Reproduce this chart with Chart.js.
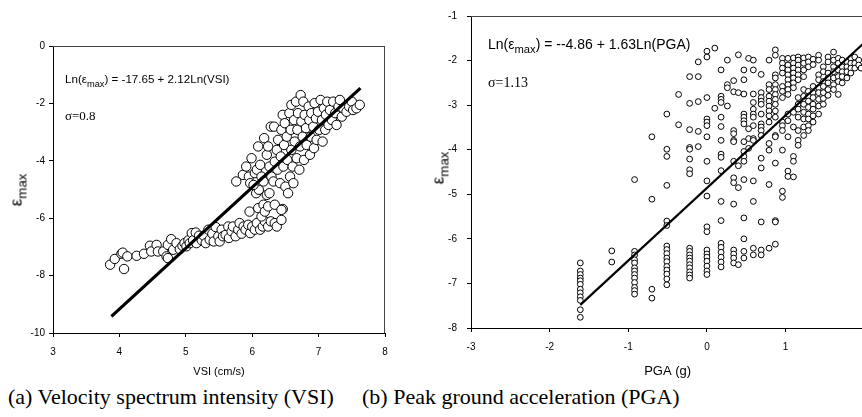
<!DOCTYPE html>
<html><head><meta charset="utf-8">
<script src="https://cdn.jsdelivr.net/npm/chart.js@4.4.1/dist/chart.umd.min.js"></script>
<style>
html,body{margin:0;padding:0;background:#fff;}
body{width:862px;height:417px;overflow:hidden;position:relative;font-family:"Liberation Sans",Arial,sans-serif;}
canvas{position:absolute;top:0;}
.t{position:absolute;white-space:nowrap;color:#000;line-height:1;}
.eq{font-family:"Liberation Sans",Arial,sans-serif;}
.eq sub{font-size:0.8em;vertical-align:-0.4em;line-height:0;}
.sig{font-family:"Liberation Serif","Times New Roman",serif;}
.cap{font-family:"Liberation Serif","Times New Roman",serif;font-size:22px;}
.yt{transform:translate(-50%,-50%) rotate(-90deg);font-size:17px;}
.yt sub{font-size:0.78em;vertical-align:-0.4em;line-height:0;}
</style></head>
<body>
<canvas id="c1" width="400" height="380" style="left:0"></canvas>
<canvas id="c2" width="446" height="380" style="left:430px"></canvas>

<div class="t yt" style="left:16px;top:190px">ε<sub>max</sub></div>
<div class="t yt" style="left:438px;top:168px">ε<sub>max</sub></div>

<div class="t eq" style="left:65px;top:73px;font-size:11.6px">Ln(ε<sub>max</sub>) = -17.65 + 2.12Ln(VSI)</div>
<div class="t sig" style="left:65px;top:109px;font-size:13px">σ=0.8</div>
<div class="t eq" style="left:488px;top:37px;font-size:14px">Ln(ε<sub>max</sub>) = --4.86 + 1.63Ln(PGA)</div>
<div class="t sig" style="left:488px;top:76px;font-size:14px">σ=1.13</div>

<div class="t cap" style="left:8px;top:386px">(a) Velocity spectrum intensity (VSI)</div>
<div class="t cap" style="left:362px;top:386px">(b) Peak ground acceleration (PGA)</div>

<script>
// ---- (a) VSI panel: ln(VSI) vs ln(strain) ----
const vsiLow = [
 [3.86,-7.62],[3.93,-7.42],[4.03,-7.24],[4.05,-7.20],[4.07,-7.77],[4.12,-7.33],[4.26,-7.31],[4.37,-7.24],
 [4.46,-6.96],[4.48,-7.16],[4.56,-6.93],[4.58,-7.16],[4.66,-7.16],[4.71,-7.33],[4.73,-6.93],[4.73,-7.39],
 [4.78,-6.73],[4.81,-7.10],[4.86,-6.87],[4.91,-7.08],[4.95,-6.96],[4.98,-6.87],[5.01,-6.98],[5.04,-6.77],
 [5.06,-6.87],[5.09,-6.52],[5.11,-6.77],[5.15,-6.50],[5.16,-6.87],[5.20,-6.61],[5.24,-6.77],[5.27,-6.61],
 [5.30,-6.87],[5.34,-6.40],[5.36,-6.75],[5.40,-6.54],[5.42,-6.81],[5.45,-6.31],[5.49,-6.63],[5.51,-6.81],
 [5.54,-6.40],[5.56,-6.63],[5.60,-6.58],[5.64,-6.29],[5.65,-6.69],[5.69,-6.46],[5.71,-6.29],[5.75,-6.63],
 [5.79,-6.40],[5.81,-6.17],[5.84,-6.54],[5.87,-6.29],[5.90,-6.40],[5.94,-6.23],[5.97,-6.52],[6.00,-6.29],
 [6.04,-6.40],[6.07,-6.17],[6.12,-6.40],[6.16,-6.29],[6.19,-6.11],[6.24,-6.29],[6.28,-6.11],[6.34,-6.17],
 [6.37,-6.29],[6.44,-6.06],[6.46,-5.68]
];
const vsiMid = [
 [5.96,-5.77],[6.09,-5.65],[6.14,-5.94],[6.17,-5.53],[6.19,-5.77],[6.24,-5.59],[6.34,-5.53],[6.44,-5.71],
 [6.06,-5.13],[6.10,-5.01],[6.22,-5.19],[6.26,-5.13]
];
const vsiHigh = [
 [5.76,-4.72],[5.86,-4.49],[5.91,-4.20],[5.95,-4.55],[5.99,-3.91],[5.97,-4.78],[6.02,-4.84],[6.04,-4.43],
 [6.07,-4.31],[6.09,-3.50],[6.12,-4.14],[6.14,-4.55],[6.17,-4.72],[6.18,-3.21],[6.22,-3.79],[6.24,-3.50],
 [6.26,-4.20],[6.28,-2.81],[6.29,-4.55],[6.32,-4.72],[6.33,-2.81],[6.34,-4.03],[6.37,-3.62],[6.38,-4.31],
 [6.39,-3.27],[6.42,-4.78],[6.43,-3.85],[6.44,-2.92],[6.46,-2.40],[6.47,-4.20],[6.48,-3.45],[6.49,-2.69],
 [6.50,-4.90],[6.52,-3.16],[6.53,-3.97],[6.54,-5.13],[6.56,-2.34],[6.57,-4.55],[6.58,-2.92],[6.59,-2.05],
 [6.59,-3.62],[6.61,-4.20],[6.62,-4.78],[6.63,-2.58],[6.64,-3.33],[6.66,-1.94],[6.67,-3.91],[6.68,-2.92],
 [6.69,-2.34],[6.71,-4.31],[6.72,-3.50],[6.73,-1.71],[6.74,-2.63],[6.76,-3.16],[6.77,-1.94],[6.78,-3.97],
 [6.79,-2.40],[6.81,-2.86],[6.82,-3.45],[6.85,-2.11],[6.86,-2.58],[6.87,-3.79],[6.88,-3.16],[6.89,-2.34],
 [6.92,-2.81],[6.93,-3.56],[6.94,-1.99],[6.96,-2.52],[6.97,-3.27],[6.99,-2.29],[7.01,-2.92],[7.03,-1.88],
 [7.05,-2.58],[7.06,-3.33],[7.08,-2.17],[7.10,-2.92],[7.11,-2.40],[7.13,-1.94],[7.15,-2.75],[7.17,-2.23],
 [7.20,-2.58],[7.22,-1.94],[7.25,-2.34],[7.27,-2.75],[7.30,-2.11],[7.32,-1.88],[7.35,-2.46],[7.37,-2.17],
 [7.42,-2.29],[7.46,-2.11],[7.50,-1.94],[7.52,-2.23],[7.57,-2.17],[7.62,-2.05]
];
const vsiFitX = [3.88, 7.63];
const vsiFitY = [-9.42, -1.47];
const vsiXTicks = [3, 8, 1];     // min, max, step
const vsiYTicks = [-10, 0, 2];

// ---- (b) PGA panel: ln(PGA) levels and ln(strain) values at each level ----
const pgaLevels = [-1.61,-1.21,-0.92,-0.70,-0.51,-0.36,-0.22,-0.11,0.00,0.10,0.18,0.26,0.34,0.40,0.47,0.53,0.59,0.69,0.79,0.87,0.96,1.03,1.10,1.16,1.23,1.29,1.35,1.42,1.48,1.54,1.61,1.67,1.72,1.78,1.83,1.88,1.93,1.96];
const pgaStrain = [
 [-6.54,-6.72,-6.80,-6.88,-6.94,-7.02,-7.13,-7.21,-7.30,-7.38,-7.59,-7.76],
 [-6.27,-6.52],
 [-4.67,-6.28,-6.36,-6.47,-6.54,-6.65,-6.72,-6.80,-6.88,-6.98,-7.09,-7.16,-7.24],
 [-3.71,-5.11,-7.13,-7.33],
 [-3.20,-3.99,-4.15,-4.80,-5.60,-5.70,-6.16,-6.24,-6.33,-6.43,-6.51,-6.62,-6.70,-6.79,-6.90,-7.03],
 [-2.76,-3.44],
 [-2.36,-2.96,-3.55,-3.95,-3.99,-4.21,-4.45,-4.54,-6.21,-6.28,-6.36,-6.43,-6.50,-6.58,-6.65,-6.74,-6.81,-6.88],
 [-2.03,-2.36,-2.92,-3.59,-3.93],
 [-1.79,-1.92,-2.83,-3.31,-3.38,-3.46,-3.71,-4.26,-4.70,-5.04,-5.73,-5.84,-6.25,-6.34,-6.41,-6.50,-6.61,-6.72,-6.80],
 [-1.72,-3.07],
 [-2.21,-2.80,-2.87,-2.94,-3.27,-3.48,-3.79,-4.10,-4.17,-4.47,-5.16,-5.59,-6.10,-6.19,-6.30,-6.41,-6.52,-6.63],
 [-1.99,-2.54,-2.61,-3.02],
 [-2.45,-2.70,-3.57,-3.64,-3.79,-3.82,-4.26,-4.63,-4.74,-5.22,-6.25,-6.34,-6.43,-6.54],
 [-1.87,-2.72,-4.36,-4.85,-6.58],
 [-2.21,-2.43,-2.75,-3.20,-3.27,-3.35,-3.42,-3.82,-4.04,-4.15,-4.26,-4.67,-5.53,-6.00,-6.28,-6.43],
 [-1.95,-3.53,-3.75,-3.97],
 [-1.99,-2.21,-2.75,-2.94,-3.09,-3.20,-3.27,-3.46,-3.75,-3.79,-4.70,-5.16,-6.21,-6.36],
 [-2.31,-2.72,-2.83,-2.91,-2.98,-3.20,-3.42,-3.49,-3.57,-3.68,-4.19,-4.41,-5.62,-6.25,-6.36],
 [-1.99,-2.54,-2.65,-2.80,-2.91,-3.02,-3.13,-3.24,-3.38,-3.86,-4.01,-4.78,-6.21],
 [-1.76,-1.88,-2.32,-2.39,-2.54,-2.65,-2.76,-2.87,-2.98,-3.13,-3.27,-3.68,-3.71,-4.30,-5.59,-5.62,-6.12],
 [-1.95,-2.06,-2.17,-2.28,-2.58,-2.69,-2.83,-3.38,-3.46,-3.57,-4.01,-4.93,-5.07],
 [-1.95,-2.10,-2.21,-2.32,-2.43,-2.54,-2.65,-2.76,-3.20,-3.35,-3.71,-4.48,-4.60],
 [-1.94,-2.06,-2.17,-2.28,-2.39,-2.50,-2.61,-3.16,-3.49,-4.15,-4.26,-4.61],
 [-1.92,-1.99,-2.10,-2.21,-2.32,-2.43,-2.83,-2.98,-3.09,-3.27,-3.57,-3.79,-3.90],
 [-1.94,-2.06,-2.21,-2.36,-2.65,-2.80,-2.98,-3.16,-3.31,-3.49,-3.68],
 [-1.92,-2.03,-2.14,-2.69,-2.80,-2.91,-3.05,-3.20,-3.31,-3.46,-3.57],
 [-1.97,-2.09,-2.58,-2.72,-2.83,-2.98,-3.09,-3.24,-3.38],
 [-1.88,-1.99,-2.32,-2.43,-2.61,-2.72,-2.87,-3.02,-3.20],
 [-2.14,-2.25,-2.47,-2.58,-2.72,-2.85,-2.98],
 [-1.92,-2.03,-2.28,-2.39,-2.50,-2.65,-2.78],
 [-1.81,-1.99,-2.14,-2.25,-2.39,-2.54,-2.65],
 [-1.95,-2.06,-2.21,-2.36,-2.47,-2.76],
 [-1.99,-2.14,-2.25,-2.36,-2.50],
 [-2.03,-2.14,-2.25,-2.39],
 [-1.95,-2.06,-2.17,-2.28],
 [-1.92,-2.06,-2.17],
 [-1.99,-2.10],
 [-2.17]
];
const pgaFitX = [-1.61, 2.0];
const pgaFitY = [-7.48, -1.60];
const pgaXTicks = [-3, 2, 1];
const pgaYTicks = [-8, -1, 1];

Chart.defaults.font.family = "'Liberation Sans', Arial, sans-serif";
Chart.defaults.color = '#000';

const framePlugin = {
  id: 'frame',
  beforeDatasetsDraw(chart) {
    const {ctx, chartArea: {left, top, right, bottom}} = chart;
    ctx.save();
    ctx.strokeStyle = '#444';
    ctx.lineWidth = 1;
    ctx.beginPath();
    ctx.moveTo(left, top + 0.5); ctx.lineTo(right, top + 0.5);
    ctx.moveTo(right - 0.5, top); ctx.lineTo(right - 0.5, bottom);
    ctx.stroke();
    ctx.restore();
  }
};

function axis(t, size, pad, fit, title, titleSize) {
  const o = {
    type: 'linear', min: t[0], max: t[1],
    ticks: {stepSize: t[2], font: {size: size}, color: '#000', padding: pad},
    grid: {drawOnChartArea: false, drawTicks: true, tickLength: 4, color: '#000', lineWidth: 1},
    border: {display: true, color: '#000', width: 1},
    afterFit: fit
  };
  if (title) o.title = {display: true, text: title, font: {size: titleSize}, color: '#000', padding: {top: 0, bottom: 1}};
  return o;
}

const vsiPts = vsiLow.concat(vsiMid, vsiHigh).map(p => ({x: p[0], y: p[1]}));
new Chart(document.getElementById('c1'), {
  type: 'scatter',
  data: {datasets: [
    {type: 'line', data: vsiFitX.map((x, i) => ({x, y: vsiFitY[i]})), borderColor: '#000', borderWidth: 3.2, pointRadius: 0, fill: false, order: 0},
    {data: vsiPts, pointRadius: 4.7, pointBorderWidth: 1, borderColor: '#000', backgroundColor: '#fff', pointBorderColor: '#000', pointBackgroundColor: '#fff', order: 1}
  ]},
  options: {
    responsive: false, animation: false, devicePixelRatio: 1,
    layout: {padding: {top: 46, right: 15, left: 0, bottom: 0}},
    plugins: {legend: {display: false}, tooltip: {enabled: false}},
    scales: {
      x: axis(vsiXTicks, 10, 9, s => { s.height = 47; }, 'VSI (cm/s)', 11),
      y: axis(vsiYTicks, 10, 4, s => { s.width = 53; })
    }
  },
  plugins: [framePlugin]
});

const pgaPts = [];
pgaLevels.forEach((x, i) => pgaStrain[i].forEach(y => pgaPts.push({x, y})));
new Chart(document.getElementById('c2'), {
  type: 'scatter',
  data: {datasets: [
    {type: 'line', data: pgaFitX.map((x, i) => ({x, y: pgaFitY[i]})), borderColor: '#000', borderWidth: 2.2, pointRadius: 0, fill: false, order: 0},
    {data: pgaPts, pointRadius: 2.9, pointBorderWidth: 1, borderColor: '#000', backgroundColor: '#fff', pointBorderColor: '#000', pointBackgroundColor: '#fff', order: 1}
  ]},
  options: {
    responsive: false, animation: false, devicePixelRatio: 1,
    layout: {padding: {top: 10, right: 6, left: 0, bottom: 0}},
    plugins: {legend: {display: false}, tooltip: {enabled: false}},
    scales: {
      x: axis(pgaXTicks, 10, 9, s => { s.height = 52; }, 'PGA (g)', 13),
      y: axis(pgaYTicks, 10, 10, s => { s.width = 41; })
    }
  },
  plugins: [framePlugin]
});
</script>
</body></html>
